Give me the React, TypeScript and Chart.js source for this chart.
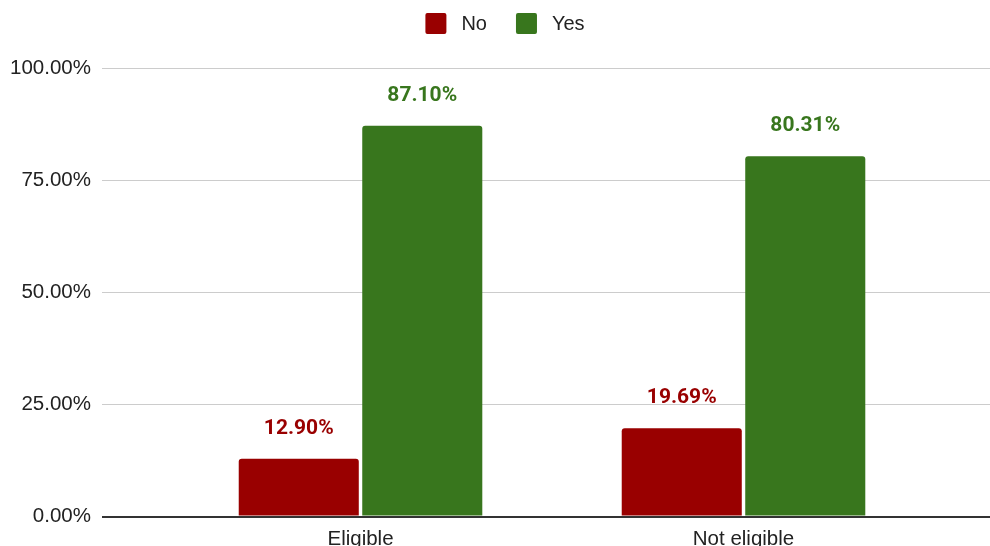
import React, { useEffect, useRef } from 'react';
import { Chart, registerables } from 'chart.js';

Chart.register(...registerables);

const categories = ['Eligible', 'Not eligible'];
const seriesNames = ['No', 'Yes'];
const noValues = [12.9, 19.69];
const yesValues = [87.1, 80.31];
const seriesColors = ['#990000', '#38761d'];
const yTicks = [0, 25, 50, 75, 100];

const TICK_FONT = { family: '"Liberation Sans", Arial, sans-serif', size: 20.5 };

const valueLabels = {
  id: 'valueLabels',
  afterDatasetsDraw(chart: any) {
    const ctx = chart.ctx;
    ctx.save();
    ctx.font = 'bold 21px Roboto, "Liberation Sans", Arial, sans-serif';
    ctx.textAlign = 'center';
    ctx.textBaseline = 'alphabetic';
    chart.data.datasets.forEach((ds: any, di: number) => {
      const meta = chart.getDatasetMeta(di);
      ctx.fillStyle = ds.backgroundColor;
      meta.data.forEach((bar: any, i: number) => {
        const v = ds.data[i].y;
        ctx.fillText(v.toFixed(2) + '%', bar.x, bar.y - 25);
      });
    });
    ctx.restore();
  },
};

const customLegend = {
  id: 'customLegend',
  afterDraw(chart: any) {
    const ctx = chart.ctx;
    ctx.save();
    ctx.font = '20px "Liberation Sans", Arial, sans-serif';
    const box = 21;
    const gapText = 15;
    const gapItem = 29;
    const items = chart.data.datasets.map((ds: any) => ({
      text: ds.label,
      color: ds.backgroundColor,
      w: ctx.measureText(ds.label).width,
    }));
    const total =
      items.reduce((s: number, it: any) => s + box + gapText + it.w, 0) + gapItem * (items.length - 1);
    let x = chart.width / 2 + 10 - total / 2;
    const top = 13;
    items.forEach((it: any) => {
      ctx.fillStyle = it.color;
      ctx.beginPath();
      if (ctx.roundRect) ctx.roundRect(x, top, box, box, 2);
      else ctx.rect(x, top, box, box);
      ctx.fill();
      ctx.fillStyle = '#222222';
      ctx.textBaseline = 'middle';
      ctx.textAlign = 'left';
      ctx.fillText(it.text, x + box + gapText, top + box / 2 + 1);
      x += box + gapText + it.w + gapItem;
    });
    ctx.restore();
  },
};

export default function App() {
  const canvasRef = useRef<HTMLCanvasElement | null>(null);

  useEffect(() => {
    if (!canvasRef.current) return;
    const seriesValues = [noValues, yesValues];
    const chart = new Chart(canvasRef.current, {
      type: 'bar',
      data: {
        datasets: seriesNames.map((name, si) => ({
          label: name,
          data: seriesValues[si].map((v, i) => ({ x: i, y: v })),
          backgroundColor: seriesColors[si],
          borderRadius: 3,
          borderSkipped: 'start',
          barPercentage: 0.972,
          categoryPercentage: 0.645,
        })),
      },
      options: {
        animation: false,
        responsive: true,
        maintainAspectRatio: false,
        layout: { padding: { top: 68, left: 0, right: 0, bottom: 0 } },
        plugins: {
          legend: { display: false },
          tooltip: { enabled: false },
        },
        scales: {
          x: {
            type: 'linear',
            min: -0.675,
            max: 1.6436,
            offset: false,
            grid: { display: false, offset: false, drawTicks: false },
            border: { display: false },
            afterBuildTicks: (scale: any) => {
              scale.ticks = categories.map((_, i) => ({ value: i }));
            },
            afterFit: (scale: any) => {
              scale.height = 29.5;
            },
            ticks: {
              callback: (v: any) => categories[v] ?? '',
              font: TICK_FONT,
              color: '#222222',
              padding: 10.5,
              maxRotation: 0,
              autoSkip: false,
            },
          },
          y: {
            min: 0,
            max: 100,
            afterBuildTicks: (scale: any) => {
              scale.ticks = yTicks.map((v) => ({ value: v }));
            },
            afterFit: (scale: any) => {
              scale.width = 102;
            },
            grid: {
              color: (c: any) => (c.tick && c.tick.value === 0 ? '#333333' : '#cccccc'),
              lineWidth: (c: any) => (c.tick && c.tick.value === 0 ? 2 : 1),
              drawTicks: false,
            },
            border: { display: false },
            ticks: {
              callback: (v: any) => Number(v).toFixed(2) + '%',
              font: TICK_FONT,
              color: '#222222',
              padding: 11,
            },
          },
        },
      } as any,
      plugins: [valueLabels, customLegend],
    });
    return () => chart.destroy();
  }, []);

  return (
    <div style={{ position: 'absolute', left: 0, top: 0, width: 990, height: 546 }}>
      <canvas ref={canvasRef} />
    </div>
  );
}
